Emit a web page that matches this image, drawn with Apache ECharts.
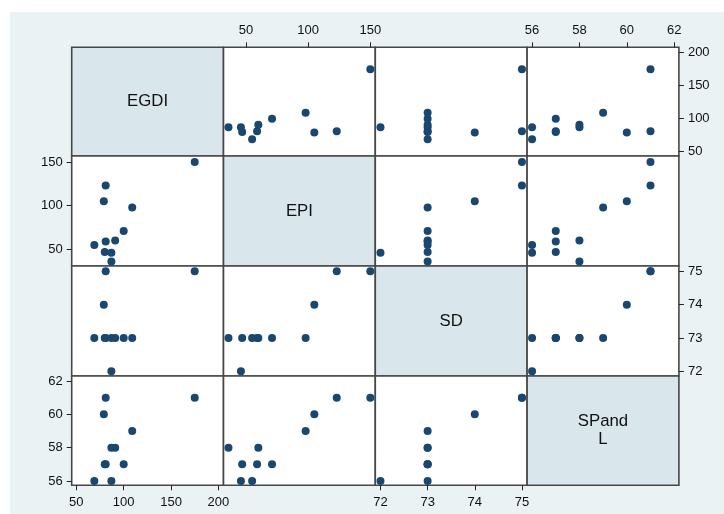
<!DOCTYPE html>
<html>
<head>
<meta charset="utf-8">
<script src="https://cdn.jsdelivr.net/npm/echarts@6/dist/echarts.min.js"></script>
<style>
html,body{margin:0;padding:0;background:#fff;}
#chart{width:724px;height:514px;}
</style>
</head>
<body>
<div id="chart"></div>
<script>
// ---- data (one entry per observation) ----
const EGDI   = [69, 87, 80, 81, 100, 87, 91, 109, 79, 81, 175];
const EPI    = [55, 46, 47, 59, 71, 36, 60, 98, 105, 123, 150];
const SD     = [73, 72, 73, 73, 73, 73, 73, 73, 74, 75, 75];
const SPandL = [56, 56, 57, 57, 57, 58, 58, 59, 60, 61, 61];

const varNames = ['EGDI', 'EPI', 'SD', 'SPand\nL'];
const ticksEGDI   = [50, 100, 150, 200];
const ticksEPI    = [50, 100, 150];
const ticksSD     = [72, 73, 74, 75];
const ticksSPandL = [56, 58, 60, 62];

const vars  = [EGDI, EPI, SD, SPandL];
const ticks = [ticksEGDI, ticksEPI, ticksSD, ticksSPandL];

// axis extents (horizontal / vertical use) per variable
const xExt = [[45.1, 205.4], [32.0, 154.0], [71.89, 75.11], [55.79, 62.2]];
const yExt = [[43.5, 208.2], [30.9, 156.9], [71.86, 75.16], [55.74, 62.3]];

// layout
const LEFT = 71.7, CW = 151.8;
const TOPS = [47.3, 156, 266, 376];
const HS = [108.7, 110, 110, 109.3];
const xAxisSide = ['bottom', 'top', 'bottom', 'top']; // per column
const yAxisSide = ['right', 'left', 'right', 'left']; // per row

const FONT = 'Liberation Sans, Arial, Helvetica, sans-serif';
const grids = [], xAxes = [], yAxes = [], series = [], graphics = [];

graphics.push({type:'rect', z:-100, shape:{x:10, y:12, width:714, height:502}, style:{fill:'#eaf2f3'}, silent:true});

for (let r = 0; r < 4; r++) {
  for (let c = 0; c < 4; c++) {
    const idx = r * 4 + c;
    const diag = r === c;
    grids.push({
      left: LEFT + c * CW, top: TOPS[r], width: CW, height: HS[r],
      show: true, backgroundColor: diag ? '#d9e6eb' : '#ffffff',
      borderColor: '#474747', borderWidth: 1.6, containLabel: false
    });
    const showX = !diag && ((xAxisSide[c] === 'bottom' && r === 3) || (xAxisSide[c] === 'top' && r === 0));
    const showY = !diag && ((yAxisSide[r] === 'left' && c === 0) || (yAxisSide[r] === 'right' && c === 3));
    xAxes.push({
      type: 'value', gridIndex: idx, min: xExt[c][0], max: xExt[c][1],
      position: xAxisSide[c],
      axisLine: {show: false}, splitLine: {show: false},
      axisTick: {show: showX, length: 5, inside: false, customValues: ticks[c], lineStyle:{color:'#222', width:1}},
      axisLabel: {show: showX, customValues: ticks[c], margin: xAxisSide[c] === 'bottom' ? 11 : 10, fontSize: 13, color: '#111', fontFamily: FONT}
    });
    yAxes.push({
      type: 'value', gridIndex: idx, min: yExt[r][0], max: yExt[r][1],
      position: yAxisSide[r],
      axisLine: {show: false}, splitLine: {show: false},
      axisTick: {show: showY, length: 5, inside: false, customValues: ticks[r], lineStyle:{color:'#222', width:1}},
      axisLabel: {show: showY, customValues: ticks[r], margin: 9, fontSize: 13, color: '#111', fontFamily: FONT}
    });
    if (diag) {
      graphics.push({
        type: 'text', x: LEFT + c * CW + CW / 2, y: TOPS[r] + HS[r] / 2,
        style: {text: varNames[r], fill: '#111', font: '16.8px ' + FONT, align: 'center', verticalAlign: 'middle', lineHeight: 18},
        silent: true, z: 100
      });
    } else {
      series.push({
        type: 'scatter', xAxisIndex: idx, yAxisIndex: idx,
        symbol: 'circle', symbolSize: 8,
        itemStyle: {color: '#1a476f', opacity: 1},
        data: vars[c].map((v, i) => [v, vars[r][i]]),
        silent: true
      });
    }
  }
}

const chart = echarts.init(document.getElementById('chart'), null, {renderer: 'canvas'});
chart.setOption({
  animation: false,
  backgroundColor: '#ffffff',
  grid: grids, xAxis: xAxes, yAxis: yAxes, series: series, graphic: graphics
});
</script>
</body>
</html>
